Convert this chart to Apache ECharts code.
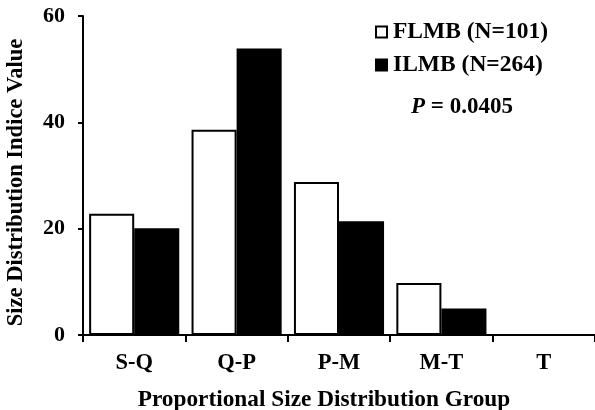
<!DOCTYPE html>
<html>
<head>
<meta charset="utf-8">
<script src="https://cdn.jsdelivr.net/npm/echarts@6/dist/echarts.min.js"></script>
<style>
  html, body { margin: 0; padding: 0; background: #fff; }
  #chart { width: 595px; height: 410px; }
</style>
</head>
<body>
<div id="chart"></div>
<script>
// Size distribution groups and index values per cohort
var categories = ['S-Q', 'Q-P', 'P-M', 'M-T', 'T'];
var flmbValues = [22.8, 38.6, 28.8, 9.8, 0];
var ilmbValues = [20.1, 53.9, 21.4, 5.0, 0];
var seriesNames = ['FLMB (N=101)', 'ILMB (N=264)'];
var yTicks = { min: 0, max: 60, interval: 20 };
var pValueText = '0.0405';

var FONT = '"Liberation Serif", "Times New Roman", serif';

var chart = echarts.init(document.getElementById('chart'), null, { renderer: 'canvas' });

var axisLine = { show: true, lineStyle: { color: '#000', width: 2 } };

chart.setOption({
  animation: false,
  backgroundColor: '#fff',
  grid: { left: 83, right: 0, top: 16, bottom: 75, containLabel: false, outerBoundsMode: 'none' },
  legend: {
    orient: 'vertical',
    left: 370,
    top: 15,
    itemWidth: 11,
    itemHeight: 11,
    itemGap: 9,
    icon: 'rect',
    data: seriesNames,
    textStyle: {
      fontFamily: FONT, fontWeight: 'bold', fontSize: 23.5, color: '#000',
      lineHeight: 23, padding: [0, 0, 0, 1]
    }
  },
  graphic: [{
    type: 'text',
    left: 411,
    top: 96,
    style: {
      text: '{i|P} = ' + pValueText,
      font: 'bold 23px ' + FONT,
      fill: '#000',
      rich: {
        i: { fontFamily: FONT, fontWeight: 'bold', fontStyle: 'italic', fontSize: 23, fill: '#000' }
      }
    }
  }],
  xAxis: {
    type: 'category',
    data: categories,
    boundaryGap: true,
    axisLine: axisLine,
    axisTick: { show: true, length: 7, inside: false, lineStyle: { color: '#000', width: 2 } },
    axisLabel: { fontFamily: FONT, fontWeight: 'bold', fontSize: 22.5, color: '#000', margin: 17 },
    name: 'Proportional Size Distribution Group',
    nameLocation: 'middle',
    nameGap: 53,
    nameTextStyle: { fontFamily: FONT, fontWeight: 'bold', fontSize: 23.3, color: '#000', padding: [0, 30, 0, 0] }
  },
  yAxis: {
    type: 'value',
    min: yTicks.min,
    max: yTicks.max,
    interval: yTicks.interval,
    splitLine: { show: false },
    axisLine: axisLine,
    axisTick: { show: true, length: 5, inside: false, lineStyle: { color: '#000', width: 2 } },
    axisLabel: { fontFamily: FONT, fontWeight: 'bold', fontSize: 22, color: '#000', margin: 18 },
    name: 'Size Distribution Indice Value',
    nameLocation: 'middle',
    nameGap: 55,
    nameTextStyle: { fontFamily: FONT, fontWeight: 'bold', fontSize: 22.5, color: '#000', padding: [0, 14, 0, 0] }
  },
  series: [{
    name: seriesNames[0],
    type: 'bar',
    data: flmbValues,
    barGap: '0%',
    barCategoryGap: '12%',
    itemStyle: { color: '#fff', borderColor: '#000', borderWidth: 2 }
  }, {
    name: seriesNames[1],
    type: 'bar',
    data: ilmbValues,
    barGap: '0%',
    barCategoryGap: '12%',
    itemStyle: { color: '#000', borderColor: '#000', borderWidth: 2 }
  }]
});
</script>
</body>
</html>
